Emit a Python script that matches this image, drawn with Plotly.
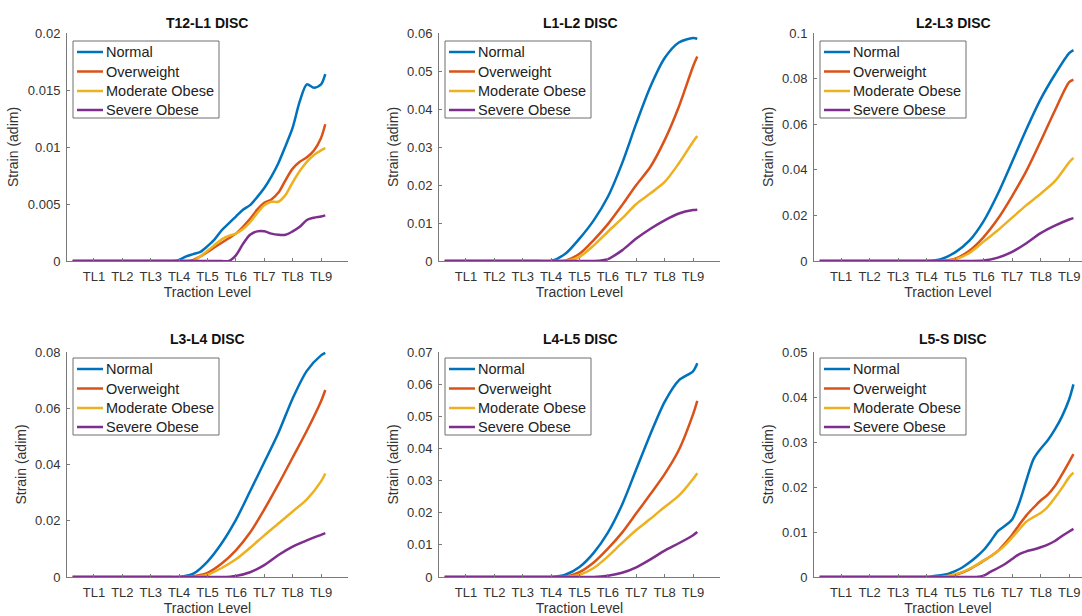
import plotly.graph_objects as go

# ---------------- data ----------------
SERIES = ["Normal", "Overweight", "Moderate Obese", "Severe Obese"]
COLORS = ["#0072BD", "#D95319", "#EDB120", "#7E2F8E"]
TITLES = ["T12-L1 DISC", "L1-L2 DISC", "L2-L3 DISC", "L3-L4 DISC", "L4-L5 DISC", "L5-S DISC"]

X_TICKS = [1, 2, 3, 4, 5, 6, 7, 8, 9]
X_LABELS = ["TL1", "TL2", "TL3", "TL4", "TL5", "TL6", "TL7", "TL8", "TL9"]

X_FINE = [0.25, 3.5, 3.75, 4.0, 4.25, 4.5, 4.75, 5.0, 5.25, 5.5, 5.75, 6.0, 6.25,
          6.5, 6.75, 7.0, 7.25, 7.5, 7.75, 8.0, 8.25, 8.5, 8.75, 9.0, 9.15]
X_COARSE = [0.25, 3.5, 4.0, 4.5, 5.0, 5.5, 6.0, 6.5, 7.0, 7.5, 8.0, 8.5, 9.0, 9.15]

# T12-L1 (fine grid)
T12L1_NORMAL = [0, 0, 0, 0.0001, 0.0004, 0.0006, 0.0008, 0.0013, 0.0019, 0.0027, 0.0033, 0.0039, 0.0045,
                0.0049, 0.0056, 0.0064, 0.0074, 0.0086, 0.0101, 0.0117, 0.0140, 0.0155, 0.0152, 0.0155, 0.0164]
T12L1_OVER = [0, 0, 0, 0, 0, 0.0001, 0.0004, 0.0008, 0.0012, 0.0016, 0.0020, 0.0024, 0.0030,
              0.0037, 0.0045, 0.0051, 0.0054, 0.0060, 0.0071, 0.0081, 0.0087, 0.0091, 0.0097, 0.0108, 0.0120]
T12L1_MOD = [0, 0, 0, 0, 0, 0, 0.0004, 0.0009, 0.0014, 0.0019, 0.0022, 0.0024, 0.0028,
             0.0034, 0.0042, 0.0049, 0.0052, 0.0052, 0.0058, 0.0069, 0.0079, 0.0087, 0.0093, 0.0097, 0.0099]
T12L1_SEV = [0, 0, 0, 0, 0, 0, 0, 0, 0, 0, 0, 0.0005, 0.0015,
             0.0023, 0.0026, 0.0026, 0.0024, 0.0023, 0.0023, 0.0026, 0.0030, 0.0036, 0.0038, 0.0039, 0.0040]

# L1-L2 (coarse grid)
L1L2_NORMAL = [0, 0, 0, 0.0019, 0.0059, 0.0107, 0.0169, 0.0257, 0.0362, 0.0459, 0.0534, 0.0575, 0.0587, 0.0585]
L1L2_OVER = [0, 0, 0, 0.0001, 0.0019, 0.0055, 0.0097, 0.0147, 0.0200, 0.0248, 0.0318, 0.0406, 0.0512, 0.0538]
L1L2_MOD = [0, 0, 0, 0, 0.0011, 0.0041, 0.0077, 0.0112, 0.0150, 0.0178, 0.0208, 0.0257, 0.0314, 0.0329]
L1L2_SEV = [0, 0, 0, 0, 0, 0, 0.0005, 0.0028, 0.0059, 0.0085, 0.0107, 0.0125, 0.0134, 0.0135]

# L2-L3
L2L3_NORMAL = [0, 0, 0, 0.0008, 0.0038, 0.0089, 0.0175, 0.0295, 0.0435, 0.0578, 0.0710, 0.0818, 0.0912, 0.0925]
L2L3_OVER = [0, 0, 0, 0, 0.0010, 0.0045, 0.0105, 0.0185, 0.0285, 0.0395, 0.0525, 0.0660, 0.0785, 0.0795]
L2L3_MOD = [0, 0, 0, 0, 0.0007, 0.0035, 0.0085, 0.0135, 0.0190, 0.0245, 0.0295, 0.0350, 0.0433, 0.0452]
L2L3_SEV = [0, 0, 0, 0, 0, 0, 0.0002, 0.0015, 0.0040, 0.0078, 0.0122, 0.0155, 0.0182, 0.0188]

# L3-L4
L3L4_NORMAL = [0, 0, 0, 0.0012, 0.0055, 0.0120, 0.0203, 0.0305, 0.0408, 0.0513, 0.0635, 0.0733, 0.0788, 0.0797]
L3L4_OVER = [0, 0, 0, 0.0003, 0.0015, 0.0048, 0.0095, 0.0158, 0.0240, 0.0330, 0.0425, 0.0520, 0.0625, 0.0665]
L3L4_MOD = [0, 0, 0, 0, 0.0008, 0.0032, 0.0063, 0.0104, 0.0148, 0.0190, 0.0233, 0.0276, 0.0340, 0.0368]
L3L4_SEV = [0, 0, 0, 0, 0, 0, 0.0004, 0.0017, 0.0042, 0.0078, 0.0108, 0.0130, 0.0150, 0.0156]

# L4-L5
L4L5_NORMAL = [0, 0, 0, 0.0007, 0.0031, 0.0075, 0.0138, 0.0225, 0.0335, 0.0445, 0.0545, 0.0612, 0.0640, 0.0665]
L4L5_OVER = [0, 0, 0, 0.0001, 0.0015, 0.0045, 0.0088, 0.0138, 0.0198, 0.0258, 0.0320, 0.0395, 0.0506, 0.0548]
L4L5_MOD = [0, 0, 0, 0, 0.0007, 0.0028, 0.0064, 0.0106, 0.0146, 0.0181, 0.0218, 0.0253, 0.0305, 0.0323]
L4L5_SEV = [0, 0, 0, 0, 0, 0, 0.0004, 0.0013, 0.0030, 0.0055, 0.0082, 0.0105, 0.0130, 0.0140]

# L5-S (fine grid)
L5S_NORMAL = [0, 0, 0, 0, 0.0002, 0.0004, 0.0007, 0.0013, 0.0021, 0.0032, 0.0045, 0.0060, 0.0080,
              0.0102, 0.0114, 0.0128, 0.0165, 0.0215, 0.0262, 0.0285, 0.0304, 0.0328, 0.0357, 0.0395, 0.0428]
L5S_OVER = [0, 0, 0, 0, 0, 0, 0.0002, 0.0005, 0.0010, 0.0017, 0.0026, 0.0036, 0.0046,
            0.0058, 0.0075, 0.0094, 0.0116, 0.0137, 0.0154, 0.0170, 0.0183, 0.0202, 0.0228, 0.0256, 0.0273]
L5S_MOD = [0, 0, 0, 0, 0, 0, 0.0002, 0.0006, 0.0011, 0.0018, 0.0027, 0.0037, 0.0046,
           0.0057, 0.0071, 0.0088, 0.0106, 0.0123, 0.0133, 0.0142, 0.0156, 0.0176, 0.0198, 0.0222, 0.0232]
L5S_SEV = [0, 0, 0, 0, 0, 0, 0, 0, 0, 0, 0, 0.0003, 0.0012,
           0.0020, 0.0029, 0.0040, 0.0051, 0.0057, 0.0061, 0.0066, 0.0072, 0.0080, 0.0091, 0.0101, 0.0107]

Y_TICKS = [
    [0, 0.005, 0.01, 0.015, 0.02],
    [0, 0.01, 0.02, 0.03, 0.04, 0.05, 0.06],
    [0, 0.02, 0.04, 0.06, 0.08, 0.1],
    [0, 0.02, 0.04, 0.06, 0.08],
    [0, 0.01, 0.02, 0.03, 0.04, 0.05, 0.06, 0.07],
    [0, 0.01, 0.02, 0.03, 0.04, 0.05],
]
Y_LABELS = [
    ["0", "0.005", "0.01", "0.015", "0.02"],
    ["0", "0.01", "0.02", "0.03", "0.04", "0.05", "0.06"],
    ["0", "0.02", "0.04", "0.06", "0.08", "0.1"],
    ["0", "0.02", "0.04", "0.06", "0.08"],
    ["0", "0.01", "0.02", "0.03", "0.04", "0.05", "0.06", "0.07"],
    ["0", "0.01", "0.02", "0.03", "0.04", "0.05"],
]

PANELS = [
    (X_FINE, [T12L1_NORMAL, T12L1_OVER, T12L1_MOD, T12L1_SEV]),
    (X_COARSE, [L1L2_NORMAL, L1L2_OVER, L1L2_MOD, L1L2_SEV]),
    (X_COARSE, [L2L3_NORMAL, L2L3_OVER, L2L3_MOD, L2L3_SEV]),
    (X_COARSE, [L3L4_NORMAL, L3L4_OVER, L3L4_MOD, L3L4_SEV]),
    (X_COARSE, [L4L5_NORMAL, L4L5_OVER, L4L5_MOD, L4L5_SEV]),
    (X_FINE, [L5S_NORMAL, L5S_OVER, L5S_MOD, L5S_SEV]),
]

# ---------------- layout geometry (pixels) ----------------
W, H = 1082, 616
COL_PX = [(67, 348), (439, 720), (814, 1082)]
COL_XRANGE = [[0.05, 9.95], [0.05, 9.95], [0.05, 9.45]]
TITLE_CX = [207, 580, 953]
ROW_PX = [(33, 261), (352, 577)]
TITLE_Y_PX = [23, 339]
LEG_TOP_OFF = [8, 6]
LEG_W, LEG_H = 146, 77
LEG_ROWS = [11, 30.5, 50, 69]

FONT = "Liberation Sans, Arial, Helvetica, sans-serif"
TEXT = "#333333"
AXC = "#7a7a7a"


def px(x):
    return x / W


def py(y):
    return 1 - y / H


fig = go.Figure()
layout = dict(
    width=W, height=H, margin=dict(l=0, r=0, t=0, b=0),
    paper_bgcolor="white", plot_bgcolor="white",
    font=dict(family=FONT, color=TEXT),
    showlegend=False,
)
annotations = []
shapes = []

for i, (xs, ys_list) in enumerate(PANELS):
    r, c = divmod(i, 3)
    ax = "" if i == 0 else str(i + 1)
    x0, x1 = COL_PX[c]
    ytop, ybot = ROW_PX[r]

    for name, col, ys in zip(SERIES, COLORS, ys_list):
        fig.add_trace(go.Scatter(
            x=xs, y=ys, name=name, mode="lines",
            line=dict(color=col, width=2.5, shape="spline", smoothing=0.8),
            xaxis="x" + ax, yaxis="y" + ax, hoverinfo="skip", showlegend=False,
        ))

    layout["xaxis" + ax] = dict(
        domain=[px(x0), min(px(x1), 1.0)], anchor="y" + ax, range=COL_XRANGE[c],
        tickvals=X_TICKS, ticktext=X_LABELS,
        showline=True, linecolor=AXC, linewidth=1, mirror=False,
        ticks="inside", ticklen=3, tickcolor=AXC, tickwidth=1,
        showgrid=False, zeroline=False, automargin=False,
        tickfont=dict(size=13, color=TEXT), ticklabelstandoff=3,
        title=dict(text="Traction Level", font=dict(size=14, color=TEXT), standoff=2),
    )
    layout["yaxis" + ax] = dict(
        domain=[py(ybot), py(ytop)], anchor="x" + ax, range=[0, Y_TICKS[i][-1]],
        tickvals=Y_TICKS[i], ticktext=Y_LABELS[i],
        showline=True, linecolor=AXC, linewidth=1, mirror=False,
        ticks="inside", ticklen=3, tickcolor=AXC, tickwidth=1,
        showgrid=False, zeroline=False, automargin=False,
        tickfont=dict(size=13, color=TEXT), ticklabelstandoff=3,
        title=dict(text="Strain (adim)", font=dict(size=14, color=TEXT), standoff=5),
    )

    # legend box (drawn in pixel positions relative to the panel)
    lx0 = x0 + 6
    ly0 = ytop + LEG_TOP_OFF[r]
    shapes.append(dict(type="rect", xref="paper", yref="paper",
                       x0=px(lx0), x1=px(lx0 + LEG_W), y0=py(ly0 + LEG_H), y1=py(ly0),
                       line=dict(color="#6e6e6e", width=1), fillcolor="white", layer="above"))
    for name, col, dy in zip(SERIES, COLORS, LEG_ROWS):
        shapes.append(dict(type="line", xref="paper", yref="paper",
                           x0=px(lx0 + 4), x1=px(lx0 + 30), y0=py(ly0 + dy), y1=py(ly0 + dy),
                           line=dict(color=col, width=2.5), layer="above"))
        annotations.append(dict(text=name, xref="paper", yref="paper",
                                x=px(lx0 + 31), y=py(ly0 + dy), xanchor="left", yanchor="middle",
                                showarrow=False, font=dict(size=14.5, color="#222222", family=FONT)))

    annotations.append(dict(
        text="<b>" + TITLES[i] + "</b>", xref="paper", yref="paper",
        x=px(TITLE_CX[c]), y=py(TITLE_Y_PX[r]), xanchor="center", yanchor="middle",
        showarrow=False, font=dict(size=14, color="#111111", family=FONT),
    ))

layout["annotations"] = annotations
layout["shapes"] = shapes
fig.update_layout(**layout)
fig.write_html("out.html")
